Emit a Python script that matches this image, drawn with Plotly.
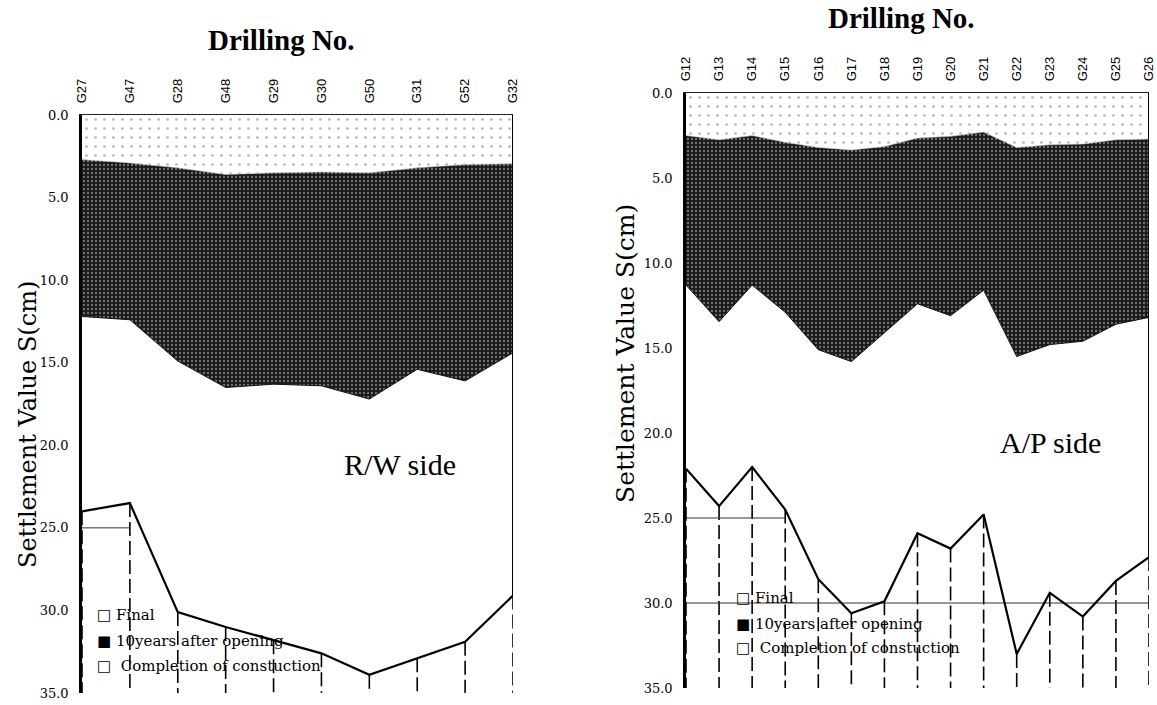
import plotly.graph_objects as go

# ---------------- data ----------------
rw_drill = ["G27", "G47", "G28", "G48", "G29", "G30", "G50", "G31", "G52", "G32"]
rw_completion = [2.7, 2.9, 3.2, 3.6, 3.5, 3.45, 3.5, 3.2, 3.0, 2.95]
rw_10years = [12.2, 12.4, 14.9, 16.5, 16.3, 16.4, 17.2, 15.4, 16.1, 14.4]
rw_final = [24.0, 23.5, 30.1, 31.0, 31.8, 32.6, 33.9, 32.9, 31.9, 29.1]

ap_drill = ["G12", "G13", "G14", "G15", "G16", "G17", "G18", "G19", "G20",
            "G21", "G22", "G23", "G24", "G25", "G26"]
ap_completion = [2.5, 2.75, 2.5, 2.9, 3.2, 3.35, 3.15, 2.65, 2.55, 2.3, 3.2, 3.05, 3.0, 2.75, 2.7]
ap_10years = [11.3, 13.45, 11.3, 12.9, 15.1, 15.8, 14.1, 12.4, 13.1, 11.6, 15.5, 14.8, 14.6, 13.6, 13.2]
ap_final = [22.1, 24.3, 22.0, 24.5, 28.6, 30.6, 29.9, 25.9, 26.8, 24.8, 33.0, 29.4, 30.8, 28.7, 27.3]

y_ticks = [0, 5, 10, 15, 20, 25, 30, 35]
y_max = 35.0
# partial reference lines seen in the scan: (level, first drilling, last drilling)
rw_ref_lines = [(25.0, "G27", "G47")]
ap_ref_lines = [(25.0, "G12", "G15"), (30.0, "G12", "G26")]

legend_items = ["Final", "10years after opening", "Completion of constuction"]

W, H = 1157, 705
SERIF = "Liberation Serif, Times New Roman, serif"
WSERIF = "DejaVu Serif, serif"
SANS = "Liberation Sans, Arial, sans-serif"

fig = go.Figure()


def add_panel(cats, comp, ten, final, ref_lines, xa, ya):
    xr = "x" if xa == 1 else f"x{xa}"
    yr = "y" if ya == 1 else f"y{ya}"
    zeros = [0.0] * len(cats)
    fig.add_trace(go.Scatter(x=cats, y=zeros, mode="lines", line=dict(width=0),
                             xaxis=xr, yaxis=yr, showlegend=False, hoverinfo="skip"))
    fig.add_trace(go.Scatter(x=cats, y=comp, mode="lines", line=dict(width=0.6, color="#cccccc"),
                             fill="tonexty", fillcolor="#f7f7f7",
                             fillpattern=dict(shape=".", bgcolor="#ffffff", fgcolor="#6a6a6a",
                                              size=9, solidity=0.07),
                             xaxis=xr, yaxis=yr, showlegend=False, hoverinfo="skip"))
    fig.add_trace(go.Scatter(x=cats, y=ten, mode="lines", line=dict(width=1, color="#111111"),
                             fill="tonexty", fillcolor="#2a2a2a",
                             fillpattern=dict(shape=".", bgcolor="#181818", fgcolor="#c8c8c8",
                                              size=4, solidity=0.28),
                             xaxis=xr, yaxis=yr, showlegend=False, hoverinfo="skip"))
    # drop lines from final value to bottom
    dx, dy = [], []
    for c, f in zip(cats, final):
        dx += [c, c, None]
        dy += [f, y_max, None]
    fig.add_trace(go.Scatter(x=dx, y=dy, mode="lines", line=dict(width=1.6, color="black", dash="14px,5px"),
                             xaxis=xr, yaxis=yr, showlegend=False, hoverinfo="skip"))
    # reference lines
    for lvl, a, b in ref_lines:
        fig.add_trace(go.Scatter(x=[a, b], y=[lvl, lvl], mode="lines",
                                 line=dict(width=1, color="#333333"),
                                 xaxis=xr, yaxis=yr, showlegend=False, hoverinfo="skip"))
    fig.add_trace(go.Scatter(x=cats, y=final, mode="lines", line=dict(width=2.2, color="black"),
                             xaxis=xr, yaxis=yr, showlegend=False, hoverinfo="skip"))
    # right border from 0 to final at last drilling
    fig.add_trace(go.Scatter(x=[cats[-1], cats[-1]], y=[0, final[-1]], mode="lines",
                             line=dict(width=2, color="black"),
                             xaxis=xr, yaxis=yr, showlegend=False, hoverinfo="skip"))


add_panel(rw_drill, rw_completion, rw_10years, rw_final, rw_ref_lines, 1, 1)
add_panel(ap_drill, ap_completion, ap_10years, ap_final, ap_ref_lines, 2, 2)


def px(x):
    return x / W


def py(y):
    return 1 - y / H


xcommon = dict(type="category", side="top", tickangle=-90, showgrid=False, zeroline=False,
               showline=True, linecolor="#222222", linewidth=1.2, ticks="", ticklen=0,
               automargin=False, ticklabelstandoff=8,
               tickfont=dict(family=SANS, size=13, color="black"))
ycommon = dict(range=[y_max, 0], tickvals=y_ticks, tickformat=".1f", showgrid=False, zeroline=False,
               showline=True, linecolor="black", linewidth=2.5, ticks="", automargin=False,
               ticklabelstandoff=8,
               tickfont=dict(family=WSERIF, size=13, color="black"))

fig.update_layout(
    width=W, height=H, autosize=False,
    margin=dict(l=0, r=0, t=0, b=0),
    paper_bgcolor="white", plot_bgcolor="white",
    showlegend=False,
    xaxis=dict(xcommon, domain=[px(82), px(513)], anchor="y", range=[0, len(rw_drill) - 1]),
    yaxis=dict(ycommon, domain=[py(693), py(115)], anchor="x"),
    xaxis2=dict(xcommon, domain=[px(686), px(1149)], anchor="y2", range=[0, len(ap_drill) - 1]),
    yaxis2=dict(ycommon, domain=[py(688), py(93)], anchor="x2"),
)

C = dict(xref="paper", yref="paper", xanchor="center", yanchor="middle", showarrow=False)
ann = []
# titles
ann.append(dict(C, text="<b>Drilling No.</b>", x=px(281), y=py(40),
                font=dict(family=SERIF, size=29, color="black")))
ann.append(dict(C, text="<b>Drilling No.</b>", x=px(902), y=py(18),
                font=dict(family=SERIF, size=29, color="black")))
ann.append(dict(C, text="Settlement Value S(cm)", x=px(28), y=py(425), textangle=-90,
                font=dict(family=WSERIF, size=24, color="black")))
ann.append(dict(C, text="Settlement Value S(cm)", x=px(626), y=py(354), textangle=-90,
                font=dict(family=WSERIF, size=25, color="black")))
ann.append(dict(C, text="R/W side", x=px(400), y=py(465),
                font=dict(family=SERIF, size=30, color="black")))
ann.append(dict(C, text="A/P side", x=px(1050), y=py(442),
                font=dict(family=SERIF, size=30, color="black")))

# legends
markers = ["□", "■", "□"]
for (x0, rows) in [(95, [615, 641, 666]), (734, [598, 624, 648])]:
    for i, (m, t) in enumerate(zip(markers, legend_items)):
        gap = "  " if i == 2 else " "
        ann.append(dict(C, text=f"{m}{gap}{t}", x=px(x0), y=py(rows[i]), xanchor="left",
                        font=dict(family=WSERIF, size=15, color="black")))

fig.update_layout(annotations=ann)
fig.write_html("out.html", config={"displayModeBar": False},
               post_script="document.body.style.margin='0px';document.body.style.padding='0px';")
